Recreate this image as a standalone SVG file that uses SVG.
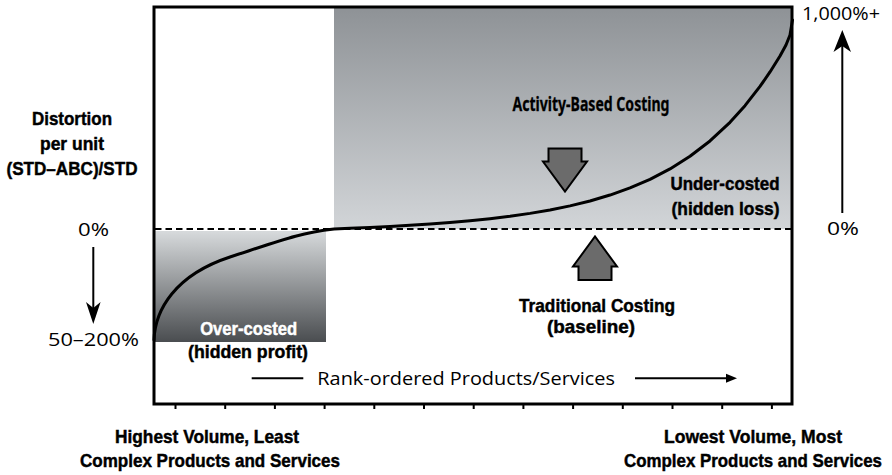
<svg xmlns="http://www.w3.org/2000/svg" width="892" height="475" viewBox="0 0 892 475">
<defs>
<linearGradient id="gUp" x1="0" y1="0" x2="0" y2="1">
<stop offset="0" stop-color="#8e9296"/>
<stop offset="1" stop-color="#d2d5d8"/>
</linearGradient>
<linearGradient id="gLow" x1="0" y1="0" x2="0" y2="1">
<stop offset="0" stop-color="#d7dadc"/>
<stop offset="1" stop-color="#4a4d50"/>
</linearGradient>
<style>
.bc{font-family:"Liberation Sans Narrow","Liberation Sans",Arial,sans-serif;font-weight:bold;font-size:18.5px;fill:#000;stroke:#000;stroke-width:0.45}
.wh{fill:#fff;stroke:#fff}
.rg{font-family:"Open Sans","Noto Sans","Liberation Sans",sans-serif;font-size:18px;fill:#000}
.bw{font-family:"Noto Sans","Open Sans","Liberation Sans",sans-serif;font-weight:bold;font-size:20px;fill:#000;stroke:#000;stroke-width:0.3}
.ln{stroke:#000;stroke-width:2;fill:none}
.blk{fill:#6b6b6b;stroke:#000;stroke-width:2;stroke-linejoin:miter}
.tick{stroke:#000;stroke-width:2}
</style>
</defs>
<g id="regions">
<rect x="334" y="7" width="458" height="222" fill="url(#gUp)"/>
<rect x="155" y="231" width="171" height="111" fill="url(#gLow)"/>
</g>
<g id="baseline-dash">
<line x1="155" y1="229" x2="791" y2="229" stroke="#000" stroke-width="1.8" stroke-dasharray="6.5,4"/>
</g>
<g id="curve">
<path d="M154,340 C155,310 175,275 230,257 S300,233 334,229 L350,228.35 L370,227.45 L390,226.44 L410,225.29 L430,223.99 L450,222.48 L470,220.72 L490,218.66 L510,216.24 L530,213.37 L550,209.95 L570,205.87 L590,200.96 L610,195.06 L630,187.95 L650,179.34 L670,168.93 L690,156.29 L710,140.94 L730,122.28 L745,105.68 L760,86.44 L770,71.94 L780,55.94 L786,45 L790,35 L792.5,20" fill="none" stroke="#000" stroke-width="3" stroke-linejoin="round" stroke-linecap="round"/>
</g>
<g id="frame">
<rect x="154" y="7" width="638" height="397" fill="none" stroke="#000" stroke-width="3"/>
<g class="tick">
<line x1="175.5" y1="404" x2="175.5" y2="409"/>
<line x1="225.2" y1="404" x2="225.2" y2="409"/>
<line x1="274.9" y1="404" x2="274.9" y2="409"/>
<line x1="324.6" y1="404" x2="324.6" y2="409"/>
<line x1="374.3" y1="404" x2="374.3" y2="409"/>
<line x1="424" y1="404" x2="424" y2="409"/>
<line x1="473.7" y1="404" x2="473.7" y2="409"/>
<line x1="523.4" y1="404" x2="523.4" y2="409"/>
<line x1="573.1" y1="404" x2="573.1" y2="409"/>
<line x1="622.8" y1="404" x2="622.8" y2="409"/>
<line x1="672.5" y1="404" x2="672.5" y2="409"/>
<line x1="722.2" y1="404" x2="722.2" y2="409"/>
<line x1="771.9" y1="404" x2="771.9" y2="409"/>
</g>
</g>
<g id="y-axis-label">
<text class="bc" x="72" y="124.5" text-anchor="middle" textLength="80" lengthAdjust="spacingAndGlyphs">Distortion</text>
<text class="bc" x="72" y="149.5" text-anchor="middle" textLength="64" lengthAdjust="spacingAndGlyphs">per unit</text>
<text class="bc" x="72" y="174.5" text-anchor="middle" textLength="131" lengthAdjust="spacingAndGlyphs">(STD–ABC)/STD</text>
</g>
<g id="left-scale">
<text class="rg" x="93.5" y="235.5" text-anchor="middle" textLength="31" lengthAdjust="spacingAndGlyphs">0%</text>
<text class="rg" x="93.5" y="346" text-anchor="middle" textLength="91" lengthAdjust="spacingAndGlyphs">50–200%</text>
</g>
<g id="right-scale">
<text class="rg" x="841" y="20" text-anchor="middle" textLength="78" lengthAdjust="spacingAndGlyphs">1,000%+</text>
<text class="rg" x="843" y="235" text-anchor="middle" textLength="32" lengthAdjust="spacingAndGlyphs">0%</text>
</g>
<g id="connectors">
<line class="ln" x1="93.3" y1="247" x2="93.3" y2="308"/>
<polygon points="93.3,324 86,302 93.3,308 100.6,302" fill="#000"/>
<line class="ln" x1="842.3" y1="213" x2="842.3" y2="46"/>
<polygon points="842.3,30 833.5,52 842.3,46 851,52" fill="#000"/>
<line class="ln" x1="251.7" y1="378.3" x2="303.3" y2="378.3"/>
<line class="ln" x1="635" y1="378.3" x2="728" y2="378.3"/>
<polygon points="737,378.3 726,373.8 726,382.8" fill="#000"/>
</g>
<g id="abc">
<text class="bw" x="591" y="111" text-anchor="middle" textLength="157" lengthAdjust="spacingAndGlyphs">Activity-Based Costing</text>
<polygon class="blk" points="548.5,148.5 581.5,148.5 581.5,161.5 587,161.5 565,191.5 543,161.5 548.5,161.5"/>
</g>
<g id="under-costed">
<text class="bc" x="779.5" y="190" text-anchor="end" textLength="109" lengthAdjust="spacingAndGlyphs">Under-costed</text>
<text class="bc" x="779.5" y="214.5" text-anchor="end" textLength="108" lengthAdjust="spacingAndGlyphs">(hidden loss)</text>
</g>
<g id="traditional">
<polygon class="blk" points="578.5,280 611.5,280 611.5,266.5 617,266.5 595,236.5 573,266.5 578.5,266.5"/>
<text class="bc" x="597" y="311.7" text-anchor="middle" textLength="156" lengthAdjust="spacingAndGlyphs">Traditional Costing</text>
<text class="bc" x="591" y="333" text-anchor="middle" textLength="88" lengthAdjust="spacingAndGlyphs">(baseline)</text>
</g>
<g id="over-costed">
<text class="bc wh" x="248.7" y="335" text-anchor="middle" textLength="97" lengthAdjust="spacingAndGlyphs">Over-costed</text>
<text class="bc" x="248" y="357.5" text-anchor="middle" textLength="120" lengthAdjust="spacingAndGlyphs">(hidden profit)</text>
</g>
<g id="x-axis-label">
<text class="rg" x="317.3" y="385" textLength="297.7" lengthAdjust="spacingAndGlyphs">Rank-ordered Products/Services</text>
</g>
<g id="left-end">
<text class="bc" x="207" y="442.7" text-anchor="middle" textLength="184" lengthAdjust="spacingAndGlyphs">Highest Volume, Least</text>
<text class="bc" x="210" y="467.3" text-anchor="middle" textLength="260" lengthAdjust="spacingAndGlyphs">Complex Products and Services</text>
</g>
<g id="right-end">
<text class="bc" x="753" y="442.7" text-anchor="middle" textLength="178" lengthAdjust="spacingAndGlyphs">Lowest Volume, Most</text>
<text class="bc" x="753" y="467.3" text-anchor="middle" textLength="258" lengthAdjust="spacingAndGlyphs">Complex Products and Services</text>
</g>
</svg>
